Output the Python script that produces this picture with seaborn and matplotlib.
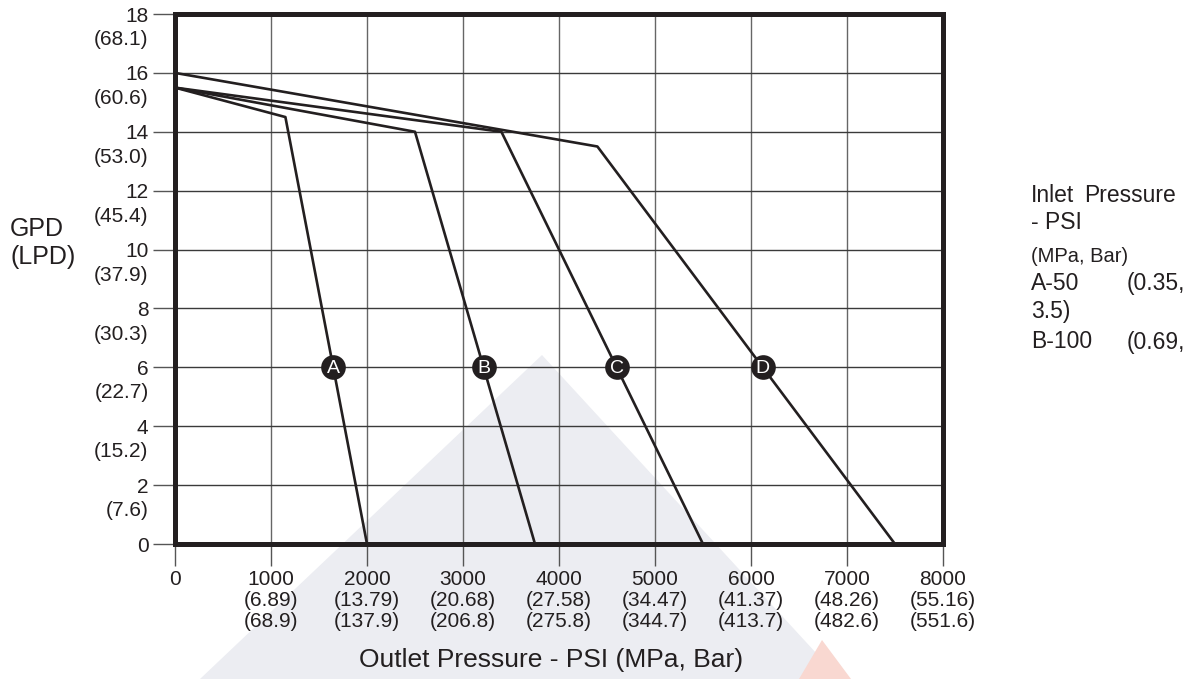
import numpy as np
import matplotlib
matplotlib.use("Agg")
import matplotlib.pyplot as plt
import seaborn as sns
from matplotlib.patches import Polygon

# data
psi_A = [0, 1150, 2000]
gpd_A = [15.5, 14.5, 0]
psi_B = [0, 2500, 3750]
gpd_B = [15.5, 14.0, 0]
psi_C = [0, 3400, 5500]
gpd_C = [15.5, 14.0, 0]
psi_D = [0, 4400, 7500]
gpd_D = [16.0, 13.5, 0]
curve_names = ["A", "B", "C", "D"]
marker_gpd = 6

x_ticks = [0, 1000, 2000, 3000, 4000, 5000, 6000, 7000, 8000]
x_mpa = ["", "(6.89)", "(13.79)", "(20.68)", "(27.58)", "(34.47)", "(41.37)", "(48.26)", "(55.16)"]
x_bar = ["", "(68.9)", "(137.9)", "(206.8)", "(275.8)", "(344.7)", "(413.7)", "(482.6)", "(551.6)"]
y_ticks = [0, 2, 4, 6, 8, 10, 12, 14, 16, 18]
y_lpd = ["", "(7.6)", "(15.2)", "(22.7)", "(30.3)", "(37.9)", "(45.4)", "(53.0)", "(60.6)", "(68.1)"]

ink = "#231f20"

sns.set_style("white")
plt.rcParams["font.family"] = ["Liberation Sans", "DejaVu Sans"]

W, H = 1202, 679
fig = plt.figure(figsize=(W / 100, H / 100), dpi=100)

# faint watermark shapes behind everything
fig.patches.append(Polygon([(200 / W, 0), (542 / W, 1 - 355 / H), (840 / W, 0)],
                           closed=True, transform=fig.transFigure,
                           facecolor="#ecedf2", edgecolor="none", zorder=-2))
fig.patches.append(Polygon([(799 / W, 0), (822 / W, 1 - 640 / H), (851 / W, 0)],
                           closed=True, transform=fig.transFigure,
                           facecolor="#f9d8d1", edgecolor="none", zorder=-1))

ax = fig.add_axes([175 / W, 1 - 544 / H, (943 - 175) / W, (544 - 14) / H])
ax.set_facecolor("none")

curves = [(psi_A, gpd_A), (psi_B, gpd_B), (psi_C, gpd_C), (psi_D, gpd_D)]
mark_x = []
for psi, gpd in curves:
    sns.lineplot(x=psi, y=gpd, sort=False, estimator=None, color=ink, lw=1.9, ax=ax, zorder=3)
    # where the curve crosses the marker flow
    mark_x.append(np.interp(marker_gpd, gpd[::-1], psi[::-1]))

sns.scatterplot(x=mark_x, y=[marker_gpd] * 4, s=270, color=ink, edgecolor=ink, ax=ax, zorder=4)
for mx, name in zip(mark_x, curve_names):
    ax.text(mx, marker_gpd - 0.05, name, color="white", fontsize=14, ha="center", va="center", zorder=5)

ax.set_xlim(0, 8000)
ax.set_ylim(0, 18)

x_labels = [f"{t}\n{m}\n{b}" if m else f"{t}" for t, m, b in zip(x_ticks, x_mpa, x_bar)]
ax.set_xticks(x_ticks)
ax.set_xticklabels(x_labels, linespacing=1.12)
ax.set_yticks(y_ticks)
ax.set_yticklabels([str(t) for t in y_ticks])
ax.set_yticks([t - 0.8 for t in y_ticks[1:]], minor=True)
ax.set_yticklabels(y_lpd[1:], minor=True)

ax.tick_params(axis="both", which="major", length=16, width=1, color="#555555",
               labelsize=15, labelcolor=ink, pad=3, bottom=True, left=True)
ax.tick_params(axis="y", which="minor", length=0, labelsize=15, labelcolor=ink, pad=19, left=True)

ax.set_axisbelow(True)
ax.grid(True, which="major", axis="x", color="#666666", lw=1)
ax.grid(True, which="major", axis="y", color="#3a3a3a", lw=1)
for side in ["left", "right", "top", "bottom"]:
    ax.spines[side].set_visible(True)
    ax.spines[side].set_color(ink)
    ax.spines[side].set_linewidth(3.6)

ax.set_xlabel("")
ax.set_ylabel("")
fig.text(551 / W, 1 - 660 / H, "Outlet Pressure - PSI (MPa, Bar)", fontsize=19,
         color=ink, ha="center", va="center")
fig.text(10 / W, 1 - 229 / H, "GPD", fontsize=18, color=ink, ha="left", va="center")
fig.text(10 / W, 1 - 257 / H, "(LPD)", fontsize=18, color=ink, ha="left", va="center")

# side note, cut at the right edge as in the source
note = [
    (1031, 196, "Inlet", 16.5), (1084, 196, "Pressure", 16.5),
    (1031, 223, "- PSI", 16.5),
    (1031, 256, "(MPa, Bar)", 14.5),
    (1031, 283, "A-50", 16.5), (1127, 283, "(0.35,", 16.5),
    (1031, 312, "3.5)", 16.5),
    (1031, 342, "B-100", 16.5), (1127, 342, "(0.69,", 16.5),
]
for nx, ny, txt, fs in note:
    fig.text(nx / W, 1 - ny / H, txt, fontsize=fs, color=ink, ha="left", va="center")

fig.savefig("out.png", dpi=100)
